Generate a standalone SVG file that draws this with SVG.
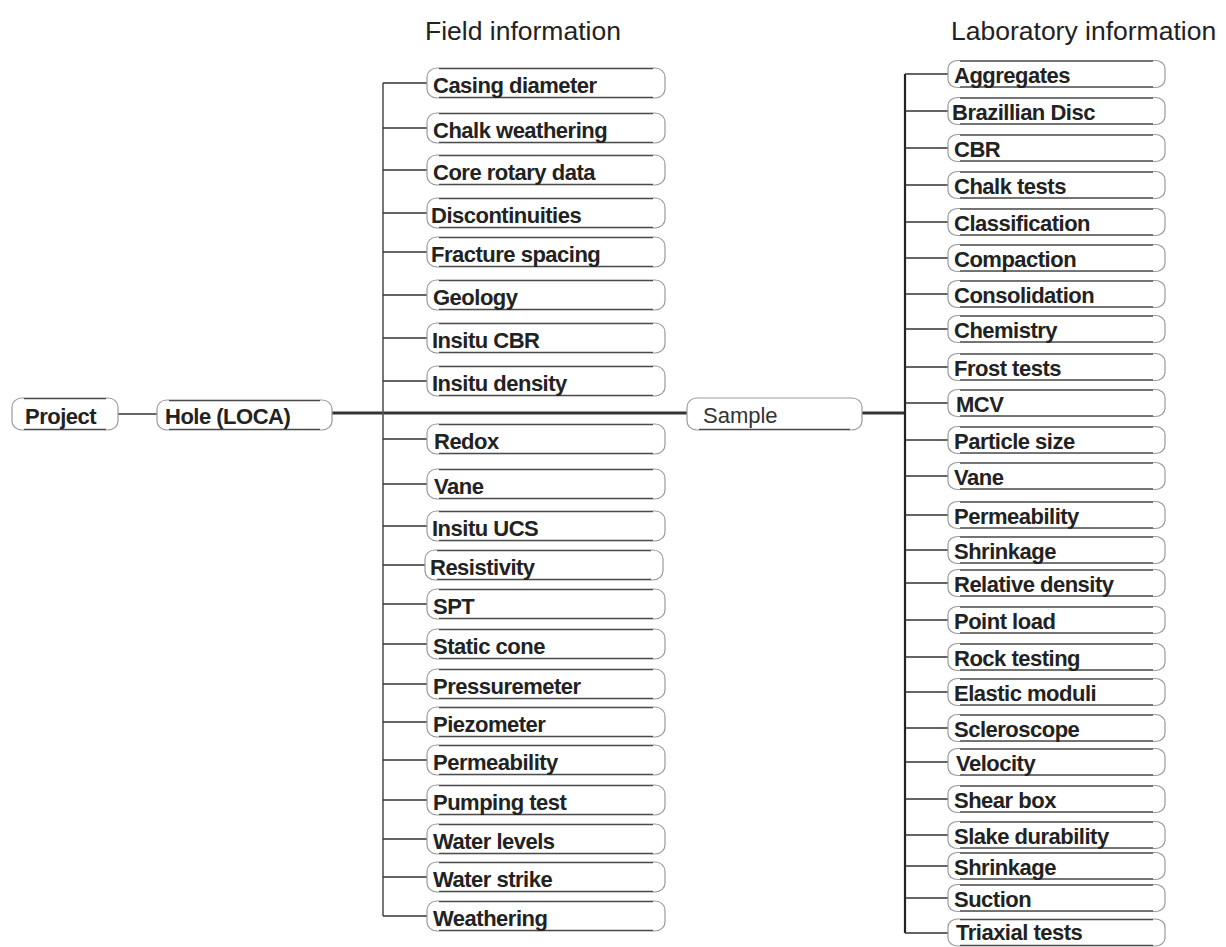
<svg xmlns="http://www.w3.org/2000/svg" xmlns:xlink="http://www.w3.org/1999/xlink" width="1226" height="947" viewBox="0 0 1226 947">
<style>
.bx{fill:#fff;stroke:#9a9a9a;stroke-width:1.2}
.edge{stroke:#4a4a4a;stroke-width:1.3;fill:none}
.t{font-family:"Liberation Sans",Arial,sans-serif;font-size:22px;font-weight:bold;fill:#222;letter-spacing:-0.5px}
.h{font-family:"Liberation Sans",Arial,sans-serif;font-size:26.5px;fill:#222}
.s{font-family:"Liberation Sans",Arial,sans-serif;font-size:22px;fill:#333}
.br{stroke:#333;stroke-width:1.5;fill:none}
.thick{stroke:#333;stroke-width:3;fill:none}
</style>
<defs>
<g id="fb"><rect class="bx" x="0" y="0" width="238" height="30" rx="10" ry="9"/><path class="edge" d="M12 0.6H226M12 29.4H226"/></g>
<g id="lb"><rect class="bx" x="0" y="0" width="217" height="27" rx="10" ry="8"/><path class="edge" d="M12 0.6H205M12 26.4H205"/></g>
</defs>
<rect width="1226" height="947" fill="#fff"/>
<text class="h" x="425" y="40">Field information</text>
<text class="h" x="951" y="40">Laboratory information</text>
<g id="connectors">
<path class="br" d="M118 414H157"/>
<path class="thick" d="M332 413H687M862 413H905"/>
<path d="M383 83V916" stroke="#555" stroke-width="1.6" fill="none"/>
<path d="M905 74V933" stroke="#222" stroke-width="2.2" fill="none"/>
<path class="br" d="M383 83H427M383 128H427M383 170H427M383 213H427M383 252H427M383 295H427M383 338H427M383 381H427M383 439H427M383 484H427M383 526H427M383 565H427M383 604H427M383 644H427M383 684H427M383 722H427M383 760H427M383 800H427M383 839H427M383 877H427M383 916H427"/>
<path class="br" d="M905 74H948M905 111H948M905 148H948M905 185H948M905 222H948M905 258H948M905 294H948M905 329H948M905 367H948M905 403H948M905 440H948M905 476H948M905 515H948M905 550H948M905 583H948M905 620H948M905 657H948M905 692H948M905 728H948M905 762H948M905 799H948M905 835H948M905 866H948M905 898H948M905 933H948"/>
</g>
<g id="project"><rect class="bx" x="12" y="398" width="106" height="32" rx="10" ry="9"/><path class="edge" d="M24 398.6H106M24 429.4H106"/><text class="t" x="25" y="424">Project</text></g>
<g id="hole"><rect class="bx" x="157" y="400" width="175" height="30" rx="10" ry="9"/><path class="edge" d="M169 400.6H320M169 429.4H320"/><text class="t" x="165" y="424">Hole (LOCA)</text></g>
<g id="sample"><rect class="bx" x="687" y="398" width="175" height="32" rx="10" ry="9"/><path class="edge" d="M699 429.4H850"/><text class="s" x="703" y="423">Sample</text></g>
<g id="f-casing"><use xlink:href="#fb" x="427" y="68"/><text class="t" x="433" y="93">Casing diameter</text></g>
<g id="f-chalk"><use xlink:href="#fb" x="427" y="113"/><text class="t" x="433" y="138">Chalk weathering</text></g>
<g id="f-core"><use xlink:href="#fb" x="427" y="155"/><text class="t" x="433" y="180">Core rotary data</text></g>
<g id="f-discont"><use xlink:href="#fb" x="427" y="198"/><text class="t" x="431" y="223">Discontinuities</text></g>
<g id="f-fracture"><use xlink:href="#fb" x="427" y="237"/><text class="t" x="431" y="262">Fracture spacing</text></g>
<g id="f-geology"><use xlink:href="#fb" x="427" y="280"/><text class="t" x="433" y="305">Geology</text></g>
<g id="f-insitucbr"><use xlink:href="#fb" x="427" y="323"/><text class="t" x="432" y="348">Insitu CBR</text></g>
<g id="f-insitudens"><use xlink:href="#fb" x="427" y="366"/><text class="t" x="432" y="391">Insitu density</text></g>
<g id="f-redox"><use xlink:href="#fb" x="427" y="424"/><text class="t" x="434" y="449">Redox</text></g>
<g id="f-vane"><use xlink:href="#fb" x="427" y="469"/><text class="t" x="434" y="494">Vane</text></g>
<g id="f-ucs"><use xlink:href="#fb" x="427" y="511"/><text class="t" x="432" y="536">Insitu UCS</text></g>
<g id="f-resist"><use xlink:href="#fb" x="425" y="550"/><text class="t" x="430" y="575">Resistivity</text></g>
<g id="f-spt"><use xlink:href="#fb" x="427" y="589"/><text class="t" x="433" y="614">SPT</text></g>
<g id="f-static"><use xlink:href="#fb" x="427" y="629"/><text class="t" x="433" y="654">Static cone</text></g>
<g id="f-pressure"><use xlink:href="#fb" x="427" y="669"/><text class="t" x="433" y="694">Pressuremeter</text></g>
<g id="f-piezo"><use xlink:href="#fb" x="427" y="707"/><text class="t" x="433" y="732">Piezometer</text></g>
<g id="f-perm"><use xlink:href="#fb" x="427" y="745"/><text class="t" x="433" y="770">Permeability</text></g>
<g id="f-pump"><use xlink:href="#fb" x="427" y="785"/><text class="t" x="433" y="810">Pumping test</text></g>
<g id="f-waterlev"><use xlink:href="#fb" x="427" y="824"/><text class="t" x="433" y="849">Water levels</text></g>
<g id="f-waterstr"><use xlink:href="#fb" x="427" y="862"/><text class="t" x="433" y="887">Water strike</text></g>
<g id="f-weather"><use xlink:href="#fb" x="427" y="901"/><text class="t" x="433" y="926">Weathering</text></g>
<g id="l-agg"><use xlink:href="#lb" x="948" y="60.5"/><text class="t" x="954" y="83">Aggregates</text></g>
<g id="l-braz"><use xlink:href="#lb" x="948" y="97.5"/><text class="t" x="952" y="120">Brazillian Disc</text></g>
<g id="l-cbr"><use xlink:href="#lb" x="948" y="134.5"/><text class="t" x="954" y="157">CBR</text></g>
<g id="l-chalk"><use xlink:href="#lb" x="948" y="171.5"/><text class="t" x="954" y="194">Chalk tests</text></g>
<g id="l-class"><use xlink:href="#lb" x="948" y="208.5"/><text class="t" x="954" y="231">Classification</text></g>
<g id="l-compact"><use xlink:href="#lb" x="948" y="244.5"/><text class="t" x="954" y="267">Compaction</text></g>
<g id="l-consol"><use xlink:href="#lb" x="948" y="280.5"/><text class="t" x="954" y="303">Consolidation</text></g>
<g id="l-chem"><use xlink:href="#lb" x="948" y="315.5"/><text class="t" x="954" y="338">Chemistry</text></g>
<g id="l-frost"><use xlink:href="#lb" x="948" y="353.5"/><text class="t" x="954" y="376">Frost tests</text></g>
<g id="l-mcv"><use xlink:href="#lb" x="948" y="389.5"/><text class="t" x="956" y="412">MCV</text></g>
<g id="l-particle"><use xlink:href="#lb" x="948" y="426.5"/><text class="t" x="954" y="449">Particle size</text></g>
<g id="l-vane"><use xlink:href="#lb" x="948" y="462.5"/><text class="t" x="954" y="485">Vane</text></g>
<g id="l-perm"><use xlink:href="#lb" x="948" y="501.5"/><text class="t" x="954" y="524">Permeability</text></g>
<g id="l-shrink1"><use xlink:href="#lb" x="948" y="536.5"/><text class="t" x="954" y="559">Shrinkage</text></g>
<g id="l-reldens"><use xlink:href="#lb" x="948" y="569.5"/><text class="t" x="954" y="592">Relative density</text></g>
<g id="l-point"><use xlink:href="#lb" x="948" y="606.5"/><text class="t" x="954" y="629">Point load</text></g>
<g id="l-rock"><use xlink:href="#lb" x="948" y="643.5"/><text class="t" x="954" y="666">Rock testing</text></g>
<g id="l-elastic"><use xlink:href="#lb" x="948" y="678.5"/><text class="t" x="954" y="701">Elastic moduli</text></g>
<g id="l-sclero"><use xlink:href="#lb" x="948" y="714.5"/><text class="t" x="954" y="737">Scleroscope</text></g>
<g id="l-velocity"><use xlink:href="#lb" x="948" y="748.5"/><text class="t" x="956" y="771">Velocity</text></g>
<g id="l-shear"><use xlink:href="#lb" x="948" y="785.5"/><text class="t" x="954" y="808">Shear box</text></g>
<g id="l-slake"><use xlink:href="#lb" x="948" y="821.5"/><text class="t" x="954" y="844">Slake durability</text></g>
<g id="l-shrink2"><use xlink:href="#lb" x="948" y="852.5"/><text class="t" x="954" y="875">Shrinkage</text></g>
<g id="l-suction"><use xlink:href="#lb" x="948" y="884.5"/><text class="t" x="954" y="907">Suction</text></g>
<g id="l-triax"><use xlink:href="#lb" x="948" y="919"/><text class="t" x="956" y="940">Triaxial tests</text></g>
</svg>
